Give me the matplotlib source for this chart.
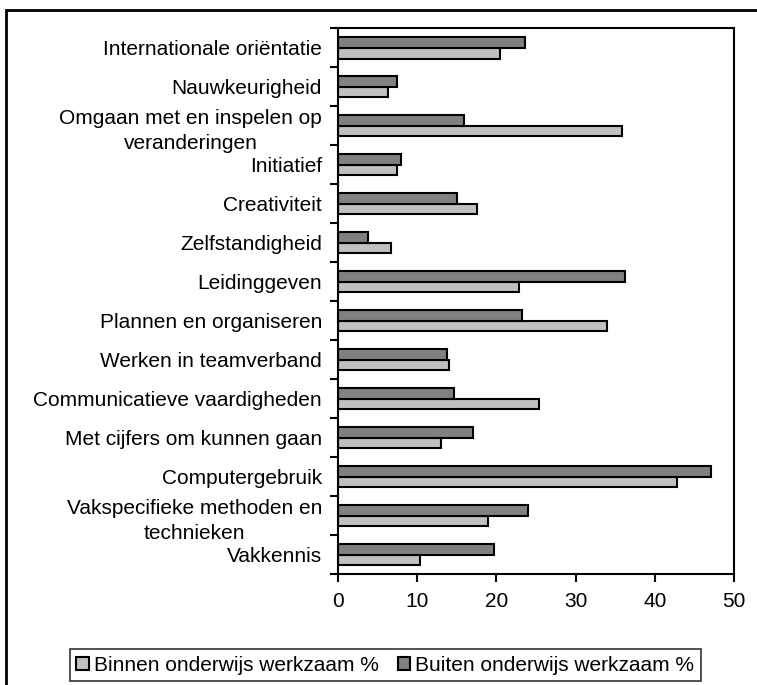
import numpy as np
import matplotlib
matplotlib.use('Agg')
import matplotlib.pyplot as plt
from matplotlib.patches import Rectangle

plt.rcParams['font.family'] = ['Liberation Sans', 'DejaVu Sans']

# data, listed top to bottom as in the chart
categories = [
    'Internationale oriëntatie',
    'Nauwkeurigheid',
    'Omgaan met en inspelen op\nveranderingen',
    'Initiatief',
    'Creativiteit',
    'Zelfstandigheid',
    'Leidinggeven',
    'Plannen en organiseren',
    'Werken in teamverband',
    'Communicatieve vaardigheden',
    'Met cijfers om kunnen gaan',
    'Computergebruik',
    'Vakspecifieke methoden en\ntechnieken',
    'Vakkennis',
]
binnen = [20.5, 6.3, 35.9, 7.4, 17.6, 6.7, 22.9, 34.0, 14.0, 25.4, 13.0, 42.8, 19.0, 10.3]
buiten = [23.6, 7.4, 15.9, 7.9, 15.0, 3.8, 36.2, 23.3, 13.8, 14.7, 17.0, 47.1, 24.0, 19.7]
series_names = ['Binnen onderwijs werkzaam %', 'Buiten onderwijs werkzaam %']
xticks = [0, 10, 20, 30, 40, 50]

fig = plt.figure(figsize=(7.57, 6.85), dpi=100)
ax = fig.add_axes([0.4465, 0.162, 0.523, 0.797])

y = np.arange(len(categories))
h = 0.28
b1 = ax.barh(y + h / 2, binnen, height=h, color='#c0c0c0', edgecolor='black', linewidth=1.5,
             label=series_names[0])
b2 = ax.barh(y - h / 2, buiten, height=h, color='#808080', edgecolor='black', linewidth=1.5,
             label=series_names[1])

ax.set_xlim(0, 50)
ax.set_ylim(len(categories) - 0.5, -0.5)
ax.set_xticks(xticks)
ax.set_yticks(y)
ax.set_yticklabels(categories, multialignment='center', linespacing=1.45)
ax.set_yticks(np.arange(len(categories) + 1) - 0.5, minor=True)
ax.tick_params(axis='y', which='major', length=0, pad=11.5, labelsize=15)
ax.tick_params(axis='y', which='minor', length=6, width=1.5, direction='out')
ax.tick_params(axis='x', length=6, width=1.5, direction='out', labelsize=15, pad=7)
for s in ax.spines.values():
    s.set_linewidth(1.5)

leg = fig.legend(handles=[b1, b2], loc='center', bbox_to_anchor=(0.509, 0.029), ncol=2,
                 fontsize=15, frameon=True, fancybox=False, edgecolor='black',
                 handlelength=0.6, handleheight=0.6, handletextpad=0.25, columnspacing=0.9,
                 borderpad=0.3, borderaxespad=0.3)
leg.get_frame().set_linewidth(1.2)

# outer chart border (cropped at the right and bottom)
fig.patches.append(Rectangle((6 / 757, -0.05), 1.1, 1.05 - 10 / 685, transform=fig.transFigure,
                             fill=False, edgecolor='black', linewidth=2, clip_on=False))

fig.savefig('out.png', dpi=100)
